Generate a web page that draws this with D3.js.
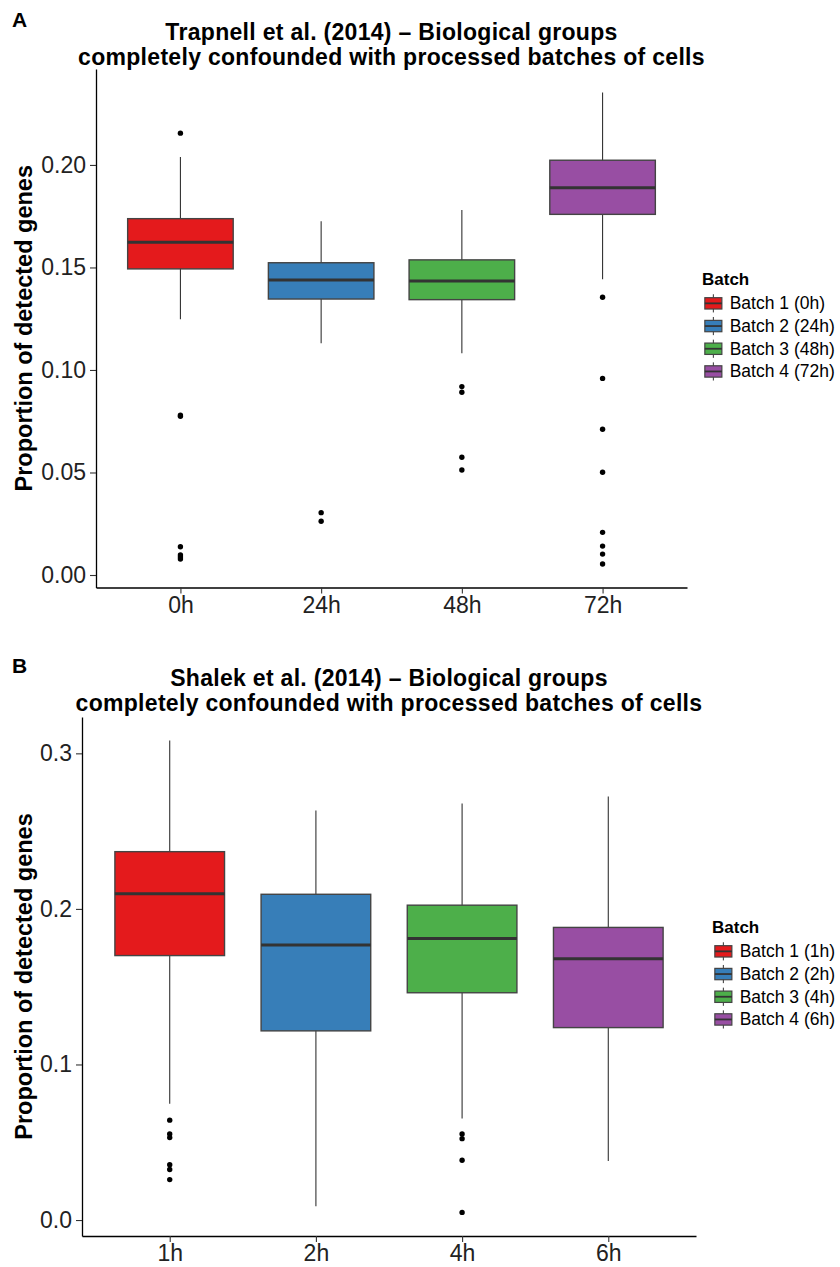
<!DOCTYPE html>
<html>
<head>
<meta charset="utf-8">
<script src="https://cdn.jsdelivr.net/npm/d3@7"></script>
<style>
  body { margin: 0; background: #fff; }
  svg { display: block; font-family: 'Liberation Sans', Arial, sans-serif; }
  .tick text { fill: #222; }
</style>
</head>
<body>
<div id="chart"></div>
<script>
// Boxplots of detected-gene proportion per batch, two panels (A: Trapnell, B: Shalek).

const colors = ['#E41A1C', '#377EB8', '#4DAF4A', '#984EA3'];

// Panel A - Trapnell et al. (2014)
const categoriesA = ['0h', '24h', '48h', '72h'];
const batchLabelsA = ['Batch 1 (0h)', 'Batch 2 (24h)', 'Batch 3 (48h)', 'Batch 4 (72h)'];
const lowerA = [0.1247, 0.1130, 0.1081, 0.1442];
const q1A = [0.1493, 0.1346, 0.1343, 0.1759];
const medianA = [0.1623, 0.1439, 0.1434, 0.1889];
const q3A = [0.1738, 0.1523, 0.1537, 0.2023];
const upperA = [0.2039, 0.1725, 0.1780, 0.2353];
const outliersA = [
  [0.2155, 0.0780, 0.0774, 0.0138, 0.0098, 0.0088, 0.0078],
  [0.0304, 0.0262],
  [0.0919, 0.0891, 0.0574, 0.0512],
  [0.1355, 0.0959, 0.0711, 0.0501, 0.0208, 0.0141, 0.0102, 0.0054]
];
const ticksA = [0, 0.05, 0.10, 0.15, 0.20];

// Panel B - Shalek et al. (2014)
const categoriesB = ['1h', '2h', '4h', '6h'];
const batchLabelsB = ['Batch 1 (1h)', 'Batch 2 (2h)', 'Batch 3 (4h)', 'Batch 4 (6h)'];
const lowerB = [0.0747, 0.0088, 0.0653, 0.0379];
const q1B = [0.1700, 0.1216, 0.1461, 0.1237];
const medianB = [0.2098, 0.1768, 0.1809, 0.1679];
const q3B = [0.2368, 0.2094, 0.2024, 0.1881];
const upperB = [0.3082, 0.2633, 0.2677, 0.2722];
const outliersB = [
  [0.0642, 0.0553, 0.0530, 0.0356, 0.0325, 0.0260],
  [],
  [0.0553, 0.0523, 0.0384, 0.0049],
  []
];
const ticksB = [0, 0.1, 0.2, 0.3];

const svg = d3.select('#chart')
  .append('svg')
  .attr('width', 840)
  .attr('height', 1267);

function drawPanel(opt) {
  const rows = opt.categories.map((c, i) => ({
    cat: c,
    label: opt.labels[i],
    color: colors[i],
    lower: opt.lower[i],
    q1: opt.q1[i],
    median: opt.median[i],
    q3: opt.q3[i],
    upper: opt.upper[i],
    outliers: opt.outliers[i]
  }));

  // ggplot-style 5% expansion of the data range
  const all = rows.flatMap(r => [r.lower, r.upper, ...r.outliers]);
  const lo = d3.min(all), hi = d3.max(all);
  const pad = (hi - lo) * 0.05;

  const x = d3.scalePoint()
    .domain(opt.categories)
    .range([opt.left, opt.right])
    .padding(0.6);

  const y = d3.scaleLinear()
    .domain([lo - pad, hi + pad])
    .range([opt.bottom, opt.top]);

  const boxW = x.step() * 0.75;
  const g = svg.append('g');

  // panel letter
  svg.append('text')
    .attr('x', 12)
    .attr('y', opt.letterY)
    .attr('font-size', 21)
    .attr('font-weight', 'bold')
    .text(opt.letter);

  // title, two lines centred on the panel
  opt.title.forEach((line, i) => {
    svg.append('text')
      .attr('x', (opt.left + opt.right) / 2)
      .attr('y', opt.titleY + i * 25)
      .attr('text-anchor', 'middle')
      .attr('font-size', 23)
      .attr('letter-spacing', 0.3)
      .attr('font-weight', 'bold')
      .text(line);
  });

  // whiskers
  g.selectAll('.whisker')
    .data(rows)
    .enter().append('line')
    .attr('x1', d => x(d.cat))
    .attr('x2', d => x(d.cat))
    .attr('y1', d => y(d.upper))
    .attr('y2', d => y(d.lower))
    .attr('stroke', '#333')
    .attr('stroke-width', 1.1);

  g.selectAll('.box')
    .data(rows)
    .enter().append('rect')
    .attr('x', d => x(d.cat) - boxW / 2)
    .attr('y', d => y(d.q3))
    .attr('width', boxW)
    .attr('height', d => y(d.q1) - y(d.q3))
    .attr('fill', d => d.color)
    .attr('stroke', '#444')
    .attr('stroke-width', 1.4);

  g.selectAll('.median')
    .data(rows)
    .enter().append('line')
    .attr('x1', d => x(d.cat) - boxW / 2)
    .attr('x2', d => x(d.cat) + boxW / 2)
    .attr('y1', d => y(d.median))
    .attr('y2', d => y(d.median))
    .attr('stroke', '#333')
    .attr('stroke-width', 3);

  g.selectAll('.outliers')
    .data(rows)
    .enter().append('g')
    .selectAll('circle')
    .data(d => d.outliers.map(v => ({ cat: d.cat, v })))
    .enter().append('circle')
    .attr('cx', d => x(d.cat))
    .attr('cy', d => y(d.v))
    .attr('r', 2.7)
    .attr('fill', '#000');

  // axes
  const yAxis = g.append('g')
    .attr('transform', `translate(${opt.left},0)`)
    .call(d3.axisLeft(y).tickValues(opt.ticks).tickFormat(d3.format(opt.tickFormat))
      .tickSize(6).tickSizeOuter(0).tickPadding(4));

  const xAxis = g.append('g')
    .attr('transform', `translate(0,${opt.bottom})`)
    .call(d3.axisBottom(x).tickSize(6).tickSizeOuter(0).tickPadding(3));

  [yAxis, xAxis].forEach(a => {
    a.select('.domain').attr('stroke', '#000').attr('stroke-width', 1.3);
    a.selectAll('.tick line').attr('stroke', '#333').attr('stroke-width', 1.1);
    a.selectAll('.tick text').attr('font-size', 23).attr('font-family', null);
  });

  // y title
  svg.append('text')
    .attr('transform', `translate(32,${(opt.top + opt.bottom) / 2}) rotate(-90)`)
    .attr('text-anchor', 'middle')
    .attr('font-size', 23.5)
    .attr('font-weight', 'bold')
    .text('Proportion of detected genes');

  // legend
  const lg = svg.append('g')
    .attr('transform', `translate(${opt.legendX},${opt.legendY})`);

  lg.append('text')
    .attr('x', 0)
    .attr('y', 0)
    .attr('font-size', 17)
    .attr('font-weight', 'bold')
    .text('Batch');

  const key = 22.7;
  const items = lg.selectAll('.item')
    .data(rows)
    .enter().append('g')
    .attr('transform', (d, i) => `translate(0,${7 + i * key})`);

  items.append('line')
    .attr('x1', key / 2).attr('x2', key / 2)
    .attr('y1', key * 0.1).attr('y2', key * 0.9)
    .attr('stroke', '#333')
    .attr('stroke-width', 1);

  items.append('rect')
    .attr('x', key * 0.125)
    .attr('y', key * 0.25)
    .attr('width', key * 0.75)
    .attr('height', key * 0.5)
    .attr('fill', d => d.color)
    .attr('stroke', '#444')
    .attr('stroke-width', 1.2);

  items.append('line')
    .attr('x1', key * 0.125).attr('x2', key * 0.875)
    .attr('y1', key / 2).attr('y2', key / 2)
    .attr('stroke', '#333')
    .attr('stroke-width', 1.8);

  items.append('text')
    .attr('x', key + 5)
    .attr('y', key / 2 + 6)
    .attr('font-size', 17.5)
    .text(d => d.label);
}

drawPanel({
  letter: 'A', letterY: 27,
  title: ['Trapnell et al. (2014) \u2013 Biological groups',
          'completely confounded with processed batches of cells'],
  titleY: 40,
  categories: categoriesA, labels: batchLabelsA,
  lower: lowerA, q1: q1A, median: medianA, q3: q3A, upper: upperA, outliers: outliersA,
  ticks: ticksA, tickFormat: '.2f',
  left: 96, right: 687, top: 69, bottom: 587.5,
  legendX: 702, legendY: 285
});

drawPanel({
  letter: 'B', letterY: 673,
  title: ['Shalek et al. (2014) \u2013 Biological groups',
          'completely confounded with processed batches of cells'],
  titleY: 686,
  categories: categoriesB, labels: batchLabelsB,
  lower: lowerB, q1: q1B, median: medianB, q3: q3B, upper: upperB, outliers: outliersB,
  ticks: ticksB, tickFormat: '.1f',
  left: 82, right: 696, top: 717, bottom: 1236,
  legendX: 712, legendY: 933
});
</script>
</body>
</html>
